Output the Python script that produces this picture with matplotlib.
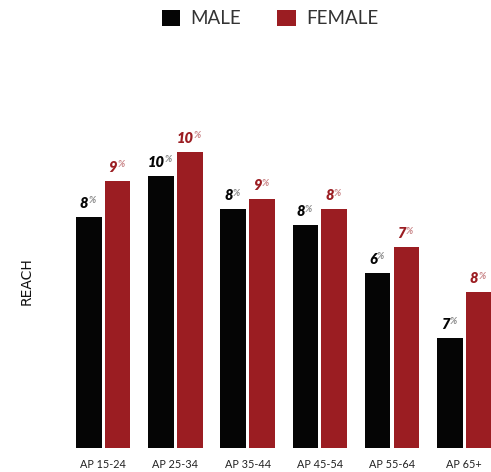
import numpy as np
import matplotlib
matplotlib.use("Agg")
import matplotlib.pyplot as plt

plt.rcParams['font.family'] = ['Lato', 'DejaVu Sans']

# data (bar heights in % scale, labels as printed)
groups = ["AP 15-24", "AP 25-34", "AP 35-44", "AP 45-54", "AP 55-64", "AP 65+"]
male = [8.55, 10.06, 8.83, 8.24, 6.47, 4.06]
female = [9.88, 10.96, 9.19, 8.82, 7.41, 5.75]
male_lbl = ["8", "10", "8", "8", "6", "7"]
female_lbl = ["9", "10", "9", "8", "7", "8"]

black = '#050505'
red = '#9b1d22'

fig = plt.figure(figsize=(4.91, 4.72), dpi=100)
ax = fig.add_axes([60/491, 24.5/472, 431/491, 405/472])

x = np.arange(len(groups))
w = 0.356
off = 0.199
b1 = ax.bar(x - off, male, width=w, color=black, label='MALE')
b2 = ax.bar(x + off, female, width=w, color=red, label='FEMALE')

ax.set_xlim(-0.598, 5.371)
ax.set_ylim(0, 15)
for s in ax.spines.values():
    s.set_visible(False)
ax.set_yticks([])
ax.set_xticks(x)
ax.set_xticklabels(groups, fontsize=7.8, color='#222222')
ax.tick_params(axis='x', length=0, pad=8)


def add_label(xpos, h, txt, col, pcol):
    t = ax.annotate(txt, xy=(xpos, h), xytext=(-3.5, 6.5), textcoords='offset points',
                    ha='center', va='baseline', fontsize=10.5, fontweight='heavy',
                    fontstyle='italic', color=col)
    ax.annotate('%', xy=(1, 1), xycoords=t, xytext=(0.2, 0.3), textcoords='offset points',
                ha='left', va='top', fontsize=6.8, fontweight='bold',
                fontstyle='italic', color=pcol)


for i in range(len(groups)):
    add_label(x[i] - off, male[i], male_lbl[i], black, '#8a8a8a')
    add_label(x[i] + off, female[i], female_lbl[i], red, '#c98487')

fig.text(27/491, 1 - 281/472, 'REACH', rotation=90, ha='center', va='center',
         fontsize=10, color='#111111', family='DejaVu Sans')

fig.legend(handles=[b1, b2], loc='center', bbox_to_anchor=(270/491, 1 - 18.5/472),
           ncol=2, frameon=False, handlelength=1.0, handleheight=1.0,
           handletextpad=0.55, columnspacing=1.9, labelcolor='#333333',
           prop={'family': 'Lato', 'size': 13.5})

fig.savefig('out.png', dpi=100)
